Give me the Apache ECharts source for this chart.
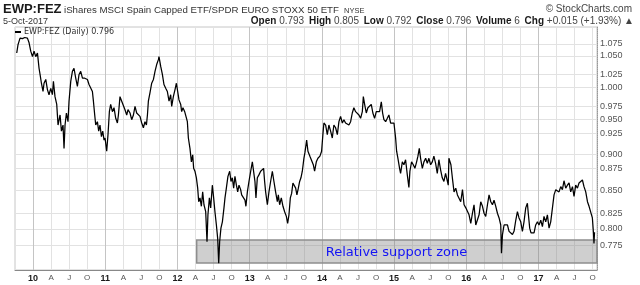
<!DOCTYPE html>
<html>
<head>
<meta charset="utf-8">
<script src="https://cdn.jsdelivr.net/npm/echarts@6/dist/echarts.min.js"></script>
<style>
html,body{margin:0;padding:0;background:#fff;}
#chart{width:640px;height:285px;}
</style>
</head>
<body>
<div id="chart"></div>
<script>
// dates as fractional years
const dates = [
2009.774,2009.792,2009.820,2009.853,2009.885,2009.922,2009.945,2009.968,2009.992,2010.014,
2010.037,2010.061,2010.083,2010.097,2010.116,2010.138,2010.152,2010.176,2010.199,2010.221,
2010.245,2010.268,2010.282,2010.304,2010.328,2010.346,2010.374,2010.393,2010.415,2010.429,
2010.443,2010.462,2010.484,2010.498,2010.522,2010.545,2010.567,2010.591,2010.614,2010.637,
2010.660,2010.684,2010.716,2010.753,2010.775,2010.799,2010.822,2010.836,2010.854,2010.868,
2010.891,2010.909,2010.927,2010.947,2010.965,2010.983,2010.997,2011.020,2011.038,2011.057,
2011.075,2011.099,2011.121,2011.145,2011.168,2011.182,2011.204,2011.228,2011.251,2011.273,
2011.297,2011.315,2011.343,2011.366,2011.390,2011.412,2011.435,2011.459,2011.481,2011.505,
2011.528,2011.550,2011.570,2011.584,2011.597,2011.619,2011.643,2011.667,2011.689,2011.712,
2011.736,2011.744,2011.768,2011.791,2011.813,2011.837,2011.860,2011.883,2011.906,2011.920,
2011.943,2011.966,2011.985,2012.003,2012.021,2012.045,2012.058,2012.076,2012.100,2012.123,
2012.137,2012.151,2012.173,2012.193,2012.211,2012.224,2012.242,2012.262,2012.280,2012.294,
2012.312,2012.331,2012.349,2012.367,2012.391,2012.409,2012.422,2012.442,2012.460,2012.483,
2012.501,2012.519,2012.539,2012.557,2012.571,2012.584,2012.602,2012.622,2012.644,2012.658,
2012.677,2012.699,2012.723,2012.741,2012.760,2012.778,2012.796,2012.816,2012.834,2012.852,
2012.875,2012.889,2012.912,2012.935,2012.948,2012.968,2012.990,2013.014,2013.037,2013.059,
2013.073,2013.087,2013.106,2013.128,2013.152,2013.175,2013.193,2013.207,2013.221,2013.245,
2013.267,2013.290,2013.314,2013.336,2013.359,2013.383,2013.397,2013.415,2013.438,2013.461,
2013.484,2013.508,2013.526,2013.544,2013.563,2013.581,2013.599,2013.619,2013.637,2013.654,
2013.674,2013.692,2013.710,2013.729,2013.751,2013.765,2013.789,2013.807,2013.834,2013.858,
2013.881,2013.899,2013.923,2013.945,2013.973,2013.996,2014.014,2014.028,2014.052,2014.075,
2014.097,2014.121,2014.144,2014.166,2014.190,2014.214,2014.236,2014.259,2014.283,2014.305,
2014.328,2014.352,2014.374,2014.398,2014.421,2014.443,2014.467,2014.490,2014.513,2014.536,
2014.560,2014.574,2014.592,2014.615,2014.637,2014.661,2014.684,2014.706,2014.730,2014.753,
2014.776,2014.799,2014.823,2014.841,2014.859,2014.883,2014.906,2014.928,2014.952,2014.975,
2014.998,2015.021,2015.035,2015.053,2015.076,2015.090,2015.114,2015.136,2015.159,2015.183,
2015.205,2015.219,2015.242,2015.266,2015.288,2015.312,2015.330,2015.349,2015.367,2015.391,
2015.413,2015.437,2015.460,2015.482,2015.506,2015.529,2015.551,2015.575,2015.598,2015.620,
2015.644,2015.667,2015.690,2015.713,2015.736,2015.750,2015.759,2015.787,2015.807,2015.830,
2015.854,2015.877,2015.899,2015.923,2015.947,2015.969,2015.993,2016.016,2016.038,2016.062,
2016.085,2016.107,2016.131,2016.154,2016.177,2016.200,2016.224,2016.246,2016.269,2016.293,
2016.315,2016.339,2016.362,2016.384,2016.408,2016.431,2016.454,2016.477,2016.487,2016.501,
2016.523,2016.546,2016.570,2016.592,2016.615,2016.639,2016.661,2016.685,2016.708,2016.730,
2016.754,2016.777,2016.799,2016.823,2016.846,2016.860,2016.878,2016.896,2016.915,2016.938,
2016.961,2016.985,2017.007,2017.031,2017.054,2017.076,2017.100,2017.123,2017.146,2017.169,
2017.193,2017.215,2017.239,2017.262,2017.284,2017.308,2017.331,2017.353,2017.377,2017.400,
2017.423,2017.446,2017.470,2017.492,2017.515,2017.539,2017.561,2017.585,2017.608,2017.630,
2017.654,2017.678,2017.700,2017.723,2017.746,2017.761,2017.768,2017.776
];
const ratio = [
1.055,1.069,1.080,1.079,1.081,1.080,1.072,1.058,1.049,1.058,
1.049,1.055,1.030,1.020,1.006,0.993,1.006,1.012,0.996,0.988,
0.998,0.988,1.009,0.985,0.973,0.942,0.957,0.933,0.942,0.908,
0.942,0.960,0.947,0.978,1.009,1.025,1.030,1.014,1.001,1.020,
1.025,1.014,1.014,1.012,1.004,1.004,0.993,0.978,0.957,0.942,
0.947,0.933,0.942,0.925,0.933,0.920,0.923,0.904,0.928,0.962,
0.973,0.962,0.968,0.952,0.945,0.957,0.985,0.978,0.975,0.965,
0.957,0.965,0.960,0.950,0.957,0.970,0.960,0.957,0.955,0.945,
0.938,0.947,0.942,0.957,0.978,0.991,1.006,1.012,1.025,1.036,
1.044,1.049,1.033,1.020,1.004,0.998,0.993,0.978,0.988,0.970,
0.985,0.996,1.006,0.993,0.980,0.973,0.962,0.968,0.962,0.965,
0.947,0.923,0.908,0.889,0.899,0.880,0.876,0.867,0.853,0.835,
0.840,0.829,0.848,0.831,0.822,0.784,0.818,0.840,0.827,0.857,
0.840,0.822,0.805,0.788,0.758,0.784,0.801,0.809,0.827,0.840,
0.853,0.869,0.876,0.862,0.867,0.853,0.869,0.857,0.848,0.857,
0.851,0.844,0.846,0.837,0.829,0.848,0.862,0.876,0.889,0.887,
0.862,0.840,0.867,0.871,0.876,0.878,0.880,0.862,0.848,0.831,
0.848,0.862,0.876,0.862,0.848,0.835,0.844,0.831,0.840,0.829,
0.822,0.816,0.807,0.818,0.840,0.846,0.860,0.862,0.853,0.844,
0.853,0.862,0.867,0.876,0.894,0.902,0.920,0.904,0.897,0.899,
0.885,0.876,0.889,0.894,0.897,0.904,0.928,0.945,0.942,0.928,
0.942,0.933,0.923,0.942,0.938,0.928,0.947,0.955,0.945,0.950,
0.945,0.947,0.942,0.947,0.960,0.968,0.962,0.960,0.957,0.952,
0.962,0.985,0.973,0.960,0.968,0.970,0.973,0.960,0.952,0.962,
0.965,0.962,0.977,0.960,0.950,0.947,0.952,0.957,0.945,0.947,
0.945,0.923,0.904,0.894,0.880,0.873,0.889,0.885,0.892,0.871,
0.854,0.876,0.889,0.885,0.880,0.889,0.897,0.908,0.894,0.880,
0.889,0.894,0.887,0.894,0.885,0.889,0.897,0.887,0.873,0.892,
0.878,0.867,0.862,0.873,0.871,0.857,0.894,0.885,0.867,0.848,
0.853,0.844,0.846,0.835,0.851,0.831,0.827,0.829,0.818,0.807,
0.820,0.831,0.805,0.807,0.818,0.835,0.829,0.820,0.816,0.831,
0.844,0.835,0.831,0.837,0.829,0.820,0.814,0.805,0.770,0.793,
0.805,0.807,0.805,0.797,0.799,0.793,0.797,0.811,0.822,0.814,
0.809,0.797,0.809,0.827,0.833,0.818,0.801,0.795,0.797,0.795,
0.805,0.809,0.805,0.811,0.803,0.816,0.809,0.818,0.801,0.809,
0.827,0.844,0.851,0.853,0.848,0.855,0.851,0.863,0.853,0.857,
0.860,0.848,0.855,0.842,0.857,0.853,0.860,0.862,0.864,0.855,
0.848,0.835,0.829,0.827,0.814,0.795,0.782,0.796
];
const yTicks = [0.775,0.800,0.825,0.850,0.875,0.900,0.925,0.950,0.975,1.000,1.025,1.050,1.075];
const yearLines = [2010,2011,2012,2013,2014,2015,2016,2017];
const monthLetters = ['', 'A', 'J', 'O'];
const supportZone = { x0: 2012.266, x1: 2017.845, top: 0.7862, bottom: 0.7583 };
const zoneLabel = { x: 2014.052, y: 0.7707, text: 'Relative support zone' };
const seriesName = 'EWP:FEZ (Daily) 0.796';

const chart = echarts.init(document.getElementById('chart'), null, {renderer: 'canvas'});
const lineData = dates.map((d, i) => [d, ratio[i]]);
const FF = 'Liberation Sans, Arial, sans-serif';

function hdr(text, pos, size, weight, color) {
  return Object.assign({ padding: 0, text: text,
    textStyle: { fontSize: size, fontWeight: weight, color: color, fontFamily: FF } }, pos);
}

const option = {
  animation: false,
  backgroundColor: '#fff',
  textStyle: { fontFamily: FF },
  title: [
    hdr('EWP:FEZ', { left: 3, top: 3 }, 13, 'bold', '#1a1a1a'),
    hdr('iShares MSCI Spain Capped ETF/SPDR EURO STOXX 50 ETF', { left: 64, top: 5 }, 9.7, 'normal', '#333'),
    hdr('NYSE', { left: 344, top: 7 }, 7.5, 'normal', '#333'),
    hdr('© StockCharts.com', { right: 8, top: 4 }, 10, 'normal', '#444'),
    hdr('5-Oct-2017', { left: 3, top: 17 }, 9, 'normal', '#333'),
    {
      right: 8, top: 16, padding: 0,
      text: '{l|Open} {v|0.793} {l|High} {v|0.805} {l|Low} {v|0.792} {l|Close} {v|0.796} {l|Volume} {v|6} {l|Chg} {v|+0.015 (+1.93%)} {v|▲}',
      textStyle: { fontWeight: 'normal', fontSize: 10, rich: {
        l: { fontSize: 10, fontWeight: 'bold', color: '#1a1a1a', fontFamily: FF, padding: [0,0,0,2] },
        v: { fontSize: 10, fontWeight: 'normal', color: '#444', fontFamily: FF }
      } }
    }
  ],
  legend: {
    left: 15, top: 28,
    data: [seriesName],
    icon: 'rect',
    itemWidth: 6, itemHeight: 2, itemGap: 4,
    padding: 0,
    textStyle: { fontSize: 8, color: '#333', fontFamily: 'DejaVu Sans', padding: [0,0,0,-2] }
  },
  grid: { left: 15, right: 43, top: 27, bottom: 15, show: true, borderColor: '#c6c6c6', borderWidth: 1 },
  xAxis: {
    type: 'value',
    min: 2009.75, max: 2017.81, interval: 0.25,
    axisLine: { show: true, lineStyle: { color: '#888' } },
    axisTick: { show: false },
    splitLine: { show: true, lineStyle: { color: '#e2e2e2', width: 1 } },
    axisLabel: {
      showMinLabel: false, showMaxLabel: false, margin: 4,
      formatter: function (v) {
        const q = Math.round((v - Math.floor(v)) * 4);
        if (Math.abs(v * 4 - Math.round(v * 4)) > 1e-6) return '';
        if (q === 0) return '{y|' + String(Math.round(v)).slice(2) + '}';
        return '{m|' + monthLetters[q] + '}';
      },
      rich: {
        y: { fontSize: 9, fontWeight: 'bold', color: '#1a1a1a', fontFamily: FF },
        m: { fontSize: 8, color: '#555', fontFamily: FF }
      }
    }
  },
  yAxis: {
    type: 'log',
    position: 'right',
    min: 0.75, max: 1.099,
    axisLine: { show: true, lineStyle: { color: '#999', type: 'dotted' } },
    axisTick: { show: false },
    axisLabel: { show: false },
    splitLine: { show: false }
  },
  series: [
    {
      name: 'grid',
      type: 'line',
      data: [],
      z: 1,
      silent: true,
      clip: false,
      markLine: {
        z: 1,
        silent: true,
        symbol: ['none', 'none'],
        animation: false,
        data: yTicks.map(v => ({ yAxis: v, lineStyle: { color: '#e2e2e2', width: 1, type: 'solid' },
          label: { show: true, position: 'end', distance: 3, formatter: () => v.toFixed(3),
                   fontSize: 9, color: '#555', fontFamily: FF } }))
          .concat(yearLines.map(x => ({ xAxis: x, lineStyle: { color: '#c4c4c4', width: 1, type: 'solid' },
            label: { show: false } })))
      },
      markArea: {
        z: 2,
        silent: true,
        itemStyle: { color: 'rgba(128,128,128,0.38)', borderColor: '#8e8e8e', borderWidth: 1.5 },
        data: [[
          { xAxis: supportZone.x0, yAxis: supportZone.top },
          { xAxis: supportZone.x1, yAxis: supportZone.bottom }
        ]]
      },
      markPoint: {
        z: 6,
        silent: true,
        symbol: 'rect',
        symbolSize: 0.1,
        data: [{ coord: [zoneLabel.x, zoneLabel.y], value: zoneLabel.text,
          label: { show: true, position: 'right', distance: 0, formatter: zoneLabel.text,
                   fontSize: 13, color: '#1414f5', fontFamily: 'DejaVu Sans' } }]
      }
    },
    {
      name: seriesName,
      type: 'line',
      data: lineData,
      z: 4,
      showSymbol: false,
      symbol: 'none',
      color: '#000',
      lineStyle: { color: '#000', width: 1.25 },
      silent: true
    }
  ]
};
chart.setOption(option);
</script>
</body>
</html>
